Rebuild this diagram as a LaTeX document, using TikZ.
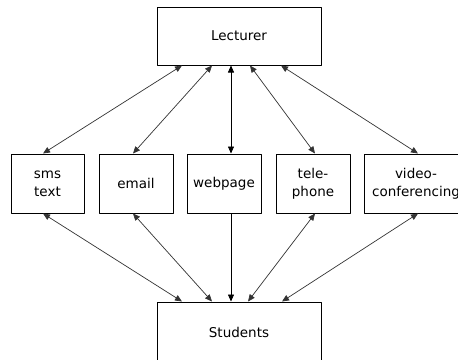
\documentclass[tikz,border=0pt]{standalone}
\usepackage{fontspec}
\setmainfont{DejaVu Sans}
\usetikzlibrary{arrows.meta}

\begin{document}
\begin{tikzpicture}[line cap=round,line join=round,>={Triangle[length=7pt,width=6pt]},x=1pt,y=-1pt,
  box/.style={draw,line width=1pt,align=center,inner sep=0pt,font=\fontsize{13.5}{18}\selectfont},
  link/.style={black!80,line width=0.7pt}]
\useasboundingbox[fill=white] (0,0) rectangle (458,359);
% top and bottom
\node[box,minimum width=164pt,minimum height=58pt] (lect) at (239,36) {Lecturer};
\node[box,minimum width=164pt,minimum height=60pt] (stud) at (239,332) {Students};
% media
\node[box,minimum width=73pt,minimum height=59pt] (sms) at (47.5,183.5) {sms\\text};
\node[box,minimum width=74pt,minimum height=59pt] (email) at (136,183.5) {email};
\node[box,minimum width=74pt,minimum height=59pt] (web) at (224,183.5) {webpage};
\node[box,minimum width=74pt,minimum height=59pt] (tele) at (313,183.5) {tele-\\phone};
\node[box,minimum width=104pt,minimum height=59pt] (video) at (416,183.5) {video-\\conferencing};
% lecturer to media
\draw[link,<->] ([xshift=-57pt]lect.south) -- ([xshift=-4.5pt]sms.north);
\draw[link,<->] ([xshift=-27pt]lect.south) -- ([xshift=-3pt]email.north);
\draw[link,<->,black] ([xshift=-8pt]lect.south) -- ([xshift=7pt]web.north);
\draw[link,<->] ([xshift=11pt]lect.south) -- ([xshift=2pt]tele.north);
\draw[link,<->] ([xshift=42pt]lect.south) -- ([xshift=2pt]video.north);
% media to students
\draw[link,<->] ([xshift=-4.5pt]sms.south) -- ([xshift=-57pt]stud.north);
\draw[link,<->] ([xshift=-3pt]email.south) -- ([xshift=-27pt]stud.north);
\draw[link,->,black] ([xshift=7pt]web.south) -- ([xshift=-8pt]stud.north);
\draw[link,<->] ([xshift=2pt]tele.south) -- ([xshift=9pt]stud.north);
\draw[link,<->] ([xshift=2pt]video.south) -- ([xshift=43pt]stud.north);
\end{tikzpicture}
\end{document}
